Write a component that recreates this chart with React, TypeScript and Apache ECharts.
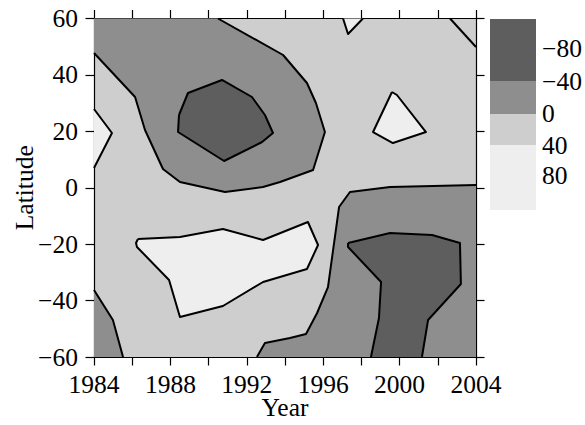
import React, { useEffect, useRef } from "react";
import * as echarts from "echarts";

// Axis definitions
const yearMin = 1984;
const yearMax = 2004;
const latMin = -60;
const latMax = 60;

// Contour level legend
const legendLabels = ["−80", "−40", "0", "40", "80"];
const levelColors = ["#5e5e5e", "#8e8e8e", "#cecece", "#eeeeee"]; // dark, mid, light, lightest

// Contour regions: [year, latitude] vertices
const midTopLeft = [
  [1984, 60], [1990.49, 60], [1993.9, 47.06], [1995.15, 37.13], [1995.62, 30.04],
  [1996.09, 19.76], [1995.47, 6.29], [1993.74, 2.04], [1992.85, 0.27], [1990.86, -1.51],
  [1988.5, 2.04], [1987.61, 6.65], [1986.67, 20.47], [1986.15, 32.17], [1984, 47.77],
];
const midBottomRight = [
  [2004, 0.97], [2004, -60], [1992.53, -60], [1992.95, -55.04], [1994.26, -53.27],
  [1995.1, -51.85], [1995.68, -44.4], [1996.25, -35.19], [1996.83, -6.83],
  [1997.4, -1.51], [1999.5, 0.27],
];
const midBottomLeft = [
  [1984, -36.25], [1984.99, -46.89], [1985.52, -60], [1984, -60],
];
const darkTop = [
  [1988.45, 25.79], [1988.92, 33.59], [1990.7, 38.2], [1992.27, 32.17], [1992.95, 25.79],
  [1993.37, 19.41], [1992.8, 16.22], [1990.81, 9.48], [1988.4, 19.76],
];
const darkBottom = [
  [1997.3, -19.59], [1999.5, -16.04], [2001.7, -16.75], [2003.16, -19.59], [2003.21, -34.12],
  [2001.49, -46.89], [2001.17, -60], [1998.5, -60], [1998.92, -46.18], [1999.03, -33.41],
  [1997.3, -21.0],
];
const lightLeft = [
  [1984, 27.92], [1984.94, 19.41], [1984, 7.0],
];
const lightTop = [
  [1997.04, 60], [1997.3, 54.5], [1998.08, 60],
];
const lightRight = [
  [1999.6, 33.94], [1999.86, 32.88], [2001.38, 19.76], [1999.65, 15.86], [1998.61, 19.76],
];
const lightMiddle = [
  [1986.3, -18.17], [1988.5, -17.46], [1990.75, -14.62], [1992.85, -18.52], [1995.2, -12.14],
  [1995.73, -20.3], [1995.15, -28.81], [1992.85, -33.41], [1990.75, -41.92], [1988.5, -45.82],
  [1987.93, -32.7], [1986.25, -21.0], [1986.2, -19.6],
];
const lineTopRight = [
  [2002.64, 60], [2004, 49.9],
];

const shapes: { points: number[][]; fill: string | null }[] = [
  { points: midTopLeft, fill: levelColors[1] },
  { points: midBottomRight, fill: levelColors[1] },
  { points: midBottomLeft, fill: levelColors[1] },
  { points: darkTop, fill: levelColors[0] },
  { points: darkBottom, fill: levelColors[0] },
  { points: lightLeft, fill: levelColors[3] },
  { points: lightTop, fill: levelColors[3] },
  { points: lightRight, fill: levelColors[3] },
  { points: lightMiddle, fill: levelColors[3] },
  { points: lineTopRight, fill: null },
];

const FONT = "Liberation Serif";
const FS = 25.5;

function onBorder(a: number[], b: number[]) {
  return (
    (a[0] === yearMin && b[0] === yearMin) ||
    (a[0] === yearMax && b[0] === yearMax) ||
    (a[1] === latMin && b[1] === latMin) ||
    (a[1] === latMax && b[1] === latMax)
  );
}

export default function App() {
  const ref = useRef<HTMLDivElement>(null);
  useEffect(() => {
    if (!ref.current) return;
    const chart = echarts.init(ref.current, null, { renderer: "svg" });
    const minus = (v: number) => String(v).replace("-", "−");
    const axisLine = { show: true, onZero: false, lineStyle: { color: "#000", width: 1.2 } };
    const axisTick = { show: true, length: 8.5, inside: false, lineStyle: { color: "#000", width: 1.2 } };
    const labelStyle = { color: "#000", fontFamily: FONT, fontSize: FS };

    // colorbar
    const cbX = 490, cbW = 46;
    const cbEdges = [19, 81, 114, 145, 210];
    const cbLabelY = [48, 81, 113, 145, 175];
    const graphics: any[] = [];
    for (let i = 0; i < 4; i++) {
      graphics.push({
        type: "rect",
        shape: { x: cbX, y: cbEdges[i], width: cbW, height: cbEdges[i + 1] - cbEdges[i] },
        style: { fill: levelColors[i] },
      });
    }
    legendLabels.forEach((t, i) => {
      graphics.push({
        type: "text",
        x: 542,
        y: cbLabelY[i],
        style: { text: t, fill: "#000", font: `${FS}px "${FONT}"`, textVerticalAlign: "middle" },
      });
    });

    chart.setOption({
      animation: false,
      grid: {
        left: 94, right: 109, top: 18.5, bottom: 68,
        show: true, backgroundColor: levelColors[2], borderWidth: 0,
        containLabel: false,
        outerBoundsMode: "none",
      },
      xAxis: [
        {
          type: "value", min: yearMin, max: yearMax, interval: 2, position: "bottom",
          axisLine, axisTick, splitLine: { show: false },
          axisLabel: {
            ...labelStyle, margin: 14,
            formatter: (v: number) => ((v - yearMin) % 4 === 0 ? String(v) : ""),
          },
          name: "Year", nameLocation: "middle", nameGap: 37, nameMoveOverlap: false,
          nameTextStyle: { ...labelStyle, lineHeight: 26 },
        },
        {
          type: "value", min: yearMin, max: yearMax, interval: 2, position: "top",
          axisLine, axisTick, splitLine: { show: false }, axisLabel: { show: false },
        },
      ],
      yAxis: [
        {
          type: "value", min: latMin, max: latMax, interval: 20, position: "left",
          axisLine, axisTick, splitLine: { show: false },
          axisLabel: { ...labelStyle, margin: 16, formatter: minus },
          name: "Latitude", nameLocation: "middle", nameGap: 57, nameMoveOverlap: false,
          nameTextStyle: { ...labelStyle },
        },
        {
          type: "value", min: latMin, max: latMax, interval: 20, position: "right",
          axisLine, axisTick, splitLine: { show: false }, axisLabel: { show: false },
        },
      ],
      graphic: graphics,
      series: [
        {
          type: "custom",
          coordinateSystem: "cartesian2d",
          xAxisIndex: 0,
          yAxisIndex: 0,
          silent: true,
          z: 1,
          data: shapes.map((s, i) => [s.points[0][0], s.points[0][1], i]),
          renderItem: (params: any, api: any) => {
            const s = shapes[api.value(2)];
            const pts = s.points.map((p) => api.coord(p));
            const children: any[] = [];
            if (s.fill) {
              children.push({
                type: "polygon",
                shape: { points: pts },
                style: { fill: s.fill, stroke: null },
              });
              const n = s.points.length;
              let cur: number[][] = [];
              const segs: number[][][] = [];
              for (let k = 0; k < n; k++) {
                const a = s.points[k], b = s.points[(k + 1) % n];
                if (onBorder(a, b)) {
                  if (cur.length > 1) segs.push(cur);
                  cur = [];
                } else {
                  if (cur.length === 0) cur.push(pts[k]);
                  cur.push(pts[(k + 1) % n]);
                }
              }
              if (cur.length > 1) segs.push(cur);
              segs.forEach((sg) =>
                children.push({
                  type: "polyline",
                  shape: { points: sg },
                  style: { fill: null, stroke: "#000", lineWidth: 2, lineJoin: "round" },
                })
              );
            } else {
              children.push({
                type: "polyline",
                shape: { points: pts },
                style: { fill: null, stroke: "#000", lineWidth: 2 },
              });
            }
            return { type: "group", children };
          },
        },
      ],
    });
    return () => chart.dispose();
  }, []);
  return <div ref={ref} style={{ width: 585, height: 425, position: "absolute", left: 0, top: 0 }} />;
}
